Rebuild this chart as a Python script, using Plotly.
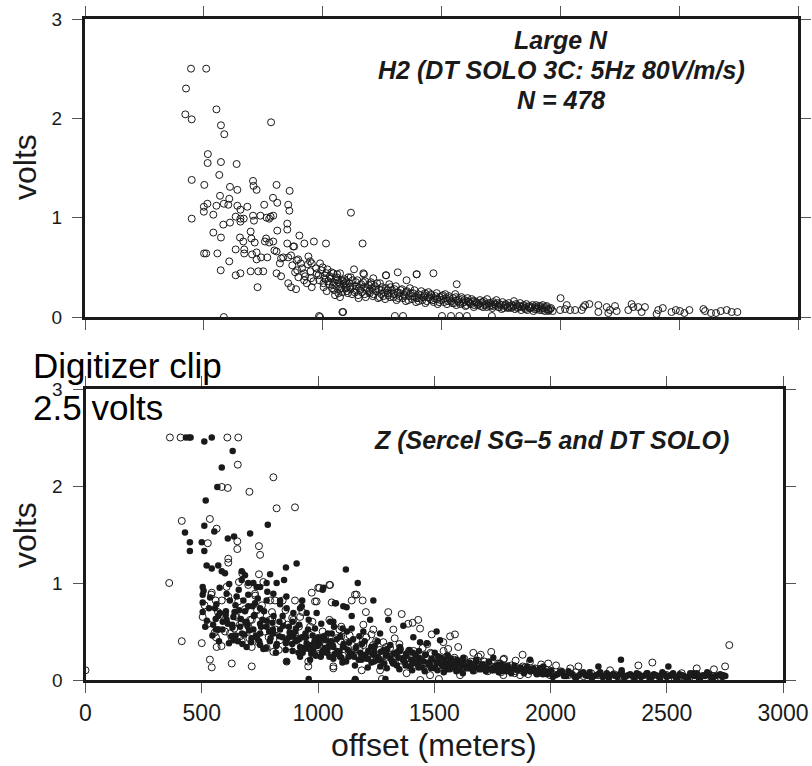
import plotly.graph_objects as go

# ---------------- data ----------------
# Top panel: H2 component, open circles
TOP_OFFSET = [
    446, 510, 425, 422, 449, 553, 572, 586, 783, 517,
    516, 572, 638, 565, 449, 502, 707, 709, 722, 806,
    610, 641, 568, 607, 791, 861, 809, 754, 855, 860,
    500, 500, 515, 553, 584, 603, 540, 449, 641, 654,
    683, 634, 654, 668, 654, 610, 582, 707, 711, 738,
    764, 775, 781, 792, 851, 851, 809, 697, 540, 572,
    652, 666, 700, 714, 762, 757, 775, 792, 902, 851,
    876, 923, 963, 1014, 501, 510, 557, 634, 670, 670,
    703, 722, 741, 722, 767, 797, 806, 607, 571, 634,
    654, 697, 729, 750, 806, 825, 726, 825, 820, 834,
    855, 867, 880, 891, 908, 940, 947, 954, 893, 898,
    922, 922, 933, 954, 951, 855, 867, 888, 989, 1000,
    1020, 975, 986, 1003, 1045, 1059, 1073, 1080, 1094, 1108,
    1101, 1066, 1073, 1052, 1083, 1119, 584, 989, 1168, 1132,
    1171, 1267, 1316, 1396, 1466, 1564, 1213, 1266, 1353, 1395,
    1086, 985, 1304, 1338, 1502, 1540, 1575, 1607, 1712, 1174,
    1004, 1013, 1017, 1027, 1030, 1039, 1046, 1049, 1058, 1062,
    1071, 1075, 1083, 1087, 1096, 1102, 1111, 1114, 1124, 1128,
    1137, 1140, 1149, 1153, 1162, 1166, 1174, 1181, 1185, 1194,
    1198, 1207, 1211, 1220, 1224, 1233, 1237, 1246, 1250, 1259,
    1263, 1272, 1276, 1285, 1289, 1298, 1302, 1311, 1315, 1324,
    1328, 1337, 1341, 1350, 1354, 1363, 1367, 1376, 1380, 1389,
    1393, 1402, 1406, 1415, 1419, 1428, 1432, 1441, 1445, 1454,
    1458, 1467, 1471, 1480, 1484, 1493, 1497, 1506, 1510, 1519,
    1523, 1532, 1536, 1545, 1549, 1558, 1562, 1571, 1575, 1584,
    1588, 1597, 1601, 1610, 1614, 1623, 1627, 1636, 1640, 1649,
    1653, 1662, 1666, 1675, 1679, 1688, 1692, 1701, 1705, 1714,
    1718, 1727, 1731, 1740, 1744, 1753, 1757, 1766, 1770, 1779,
    1783, 1792, 1796, 1805, 1809, 1818, 1822, 1831, 1835, 1844,
    1848, 1857, 1861, 1870, 1874, 1883, 1887, 1896, 1900, 1909,
    1913, 1922, 1926, 1935, 1939, 1948, 1952, 1961,
    1008, 1034, 1061, 1092, 1118, 1146, 1179, 1203, 1241, 1280,
    2001, 1968, 1999, 2020, 2027, 2041, 2062, 2090, 2097, 2104, 2122,
    2160, 2160, 2195, 2209, 2230, 2237, 2202, 2286, 2300, 2307, 2328, 2342, 2356,
    2405, 2412, 2431, 2468, 2486, 2503, 2522, 2543,
    2602, 2609, 2634, 2655, 2675, 2700, 2721, 2745,
    872, 884, 897, 913, 926, 938, 949, 961, 972, 983,
    994, 1007, 1016, 1024, 1037, 1043, 1055, 1067, 1078, 1089,
    1099, 1106, 1117, 1126, 1134, 1143, 1151, 1158, 1170, 1177,
    1188, 1196, 1205, 1214, 1222, 1229, 1240, 1248, 1255, 1266,
    1274, 1283, 1292, 1300, 1308, 1318, 1326, 1334, 1345, 1352,
    1360, 1371, 1378, 1386, 1397, 1404, 1412, 1423, 1430, 1438,
    1449, 1456, 1464, 1475, 1482, 1490, 1501, 1508, 1516, 1527,
    1534, 1542, 1553, 1560, 1568, 1579, 1586, 1594, 1605, 1612,
    1620, 1631, 1638, 1646, 1657, 1664, 1672, 1683, 1690, 1698,
    1709, 1716, 1724, 1735, 1742, 1750, 1761, 1768, 1776, 1787,
    1794, 1802, 1813, 1820, 1828, 1839, 1846, 1854, 1865, 1872,
    1880, 1891, 1898, 1906, 1917, 1924, 1932, 1943, 1950, 1958,
]
TOP_VOLTS = [
    2.50, 2.50, 2.30, 2.04, 1.99, 2.09, 1.93, 1.84, 1.96, 1.64,
    1.55, 1.56, 1.54, 1.43, 1.38, 1.33, 1.37, 1.32, 1.28, 1.33,
    1.31, 1.28, 1.22, 1.19, 1.20, 1.27, 1.15, 1.13, 1.13, 1.07,
    1.11, 1.06, 1.14, 1.12, 1.14, 1.13, 1.03, 0.99, 1.12, 1.08,
    1.11, 1.01, 0.99, 0.99, 0.96, 0.95, 0.93, 1.02, 0.97, 1.02,
    1.00, 0.99, 1.01, 1.02, 0.94, 0.88, 0.87, 0.86, 0.85, 0.80,
    0.80, 0.76, 0.79, 0.75, 0.79, 0.76, 0.75, 0.76, 0.82, 0.74,
    0.71, 0.74, 0.76, 0.74, 0.64, 0.64, 0.64, 0.68, 0.68, 0.64,
    0.63, 0.65, 0.60, 0.58, 0.60, 0.67, 0.66, 0.56, 0.47, 0.42,
    0.44, 0.46, 0.46, 0.46, 0.44, 0.41, 0.30, 0.59, 0.54, 0.60,
    0.60, 0.62, 0.71, 0.57, 0.54, 0.61, 0.56, 0.54, 0.47, 0.40,
    0.44, 0.37, 0.34, 0.30, 0.39, 0.34, 0.30, 0.28, 0.54, 0.50,
    0.48, 0.44, 0.37, 0.34, 0.44, 0.40, 0.44, 0.37, 0.34, 0.40,
    0.30, 0.24, 0.20, 0.22, 0.05, 1.05, 0.00, 0.00, 0.74, 0.48,
    0.44, 0.42, 0.45, 0.43, 0.44, 0.33, 0.39, 0.42, 0.37, 0.43,
    0.05, 0.01, 0.01, 0.01, 0.01, 0.01, 0.01, 0.01, 0.01, 0.43,
    0.30, 0.38, 0.26, 0.33, 0.41, 0.29, 0.35, 0.27, 0.31, 0.37,
    0.28, 0.33, 0.25, 0.36, 0.29, 0.26, 0.34, 0.30, 0.23, 0.31,
    0.27, 0.35, 0.22, 0.29, 0.33, 0.25, 0.30, 0.20, 0.27, 0.32,
    0.24, 0.29, 0.21, 0.31, 0.26, 0.19, 0.28, 0.23, 0.30, 0.25,
    0.18, 0.27, 0.22, 0.30, 0.24, 0.20, 0.28, 0.17, 0.25, 0.21,
    0.27, 0.19, 0.23, 0.16, 0.26, 0.21, 0.29, 0.18, 0.24, 0.20,
    0.15, 0.23, 0.19, 0.26, 0.17, 0.22, 0.14, 0.20, 0.25, 0.18,
    0.22, 0.15, 0.19, 0.24, 0.13, 0.20, 0.17, 0.22, 0.15, 0.19,
    0.13, 0.21, 0.17, 0.14, 0.19, 0.23, 0.12, 0.18, 0.15, 0.20,
    0.14, 0.17, 0.11, 0.19, 0.15, 0.13, 0.18, 0.10, 0.16, 0.14,
    0.12, 0.17, 0.14, 0.10, 0.16, 0.13, 0.18, 0.11, 0.14, 0.09,
    0.15, 0.12, 0.17, 0.10, 0.13, 0.08, 0.15, 0.11, 0.13, 0.09,
    0.14, 0.10, 0.12, 0.16, 0.08, 0.12, 0.10, 0.14, 0.07, 0.11,
    0.09, 0.13, 0.07, 0.11, 0.09, 0.12, 0.06, 0.10, 0.08, 0.11,
    0.07, 0.09, 0.12, 0.06, 0.10, 0.08, 0.07, 0.09,
    0.42, 0.39, 0.43, 0.38, 0.40, 0.37, 0.36, 0.35, 0.34, 0.33,
    0.19, 0.06, 0.07, 0.08, 0.12, 0.07, 0.07, 0.07, 0.10, 0.12, 0.13,
    0.12, 0.05, 0.10, 0.07, 0.11, 0.06, 0.04, 0.07, 0.13, 0.10, 0.10, 0.05, 0.10,
    0.03, 0.07, 0.09, 0.05, 0.07, 0.06, 0.04, 0.07,
    0.08, 0.06, 0.04, 0.04, 0.06, 0.07, 0.05, 0.05,
    0.52, 0.45, 0.58, 0.49, 0.41, 0.53, 0.46, 0.36, 0.49, 0.42,
    0.47, 0.39, 0.44, 0.36, 0.45, 0.32, 0.38, 0.35, 0.29, 0.33,
    0.36, 0.24, 0.28, 0.37, 0.25, 0.31, 0.19, 0.27, 0.35, 0.23,
    0.29, 0.26, 0.33, 0.23, 0.28, 0.34, 0.20, 0.27, 0.21, 0.29,
    0.24, 0.20, 0.27, 0.23, 0.31, 0.19, 0.24, 0.28, 0.21, 0.25,
    0.17, 0.24, 0.21, 0.27, 0.19, 0.16, 0.22, 0.20, 0.24, 0.16,
    0.20, 0.23, 0.17, 0.21, 0.18, 0.15, 0.21, 0.18, 0.23, 0.16,
    0.19, 0.16, 0.14, 0.20, 0.16, 0.13, 0.18, 0.15, 0.12, 0.16,
    0.14, 0.16, 0.12, 0.15, 0.13, 0.11, 0.15, 0.12, 0.10, 0.14,
    0.12, 0.11, 0.13, 0.14, 0.10, 0.12, 0.09, 0.12, 0.10, 0.11,
    0.09, 0.11, 0.13, 0.09, 0.11, 0.10, 0.12, 0.08, 0.10, 0.09,
    0.10, 0.08, 0.12, 0.09, 0.11, 0.07, 0.09, 0.11, 0.06, 0.08,
]

# Bottom panel: Z component, DT SOLO (open circles)
Z_OPEN_OFFSET = [
    0, 363, 409, 610, 657, 655, 808, 586, 612, 705,
    822, 901, 414, 535, 564, 526, 653, 653, 746, 751,
    614, 614, 360, 414, 500, 561, 564, 535, 543, 629,
    715, 504, 543, 560, 586, 607, 660, 674, 700, 729,
    746, 765, 794, 815, 848, 901, 973, 994, 1006, 1049,
    1059, 650, 664, 708, 751, 794, 894, 923, 600, 621,
    665, 715, 779, 808, 958, 958, 1066, 865, 1052, 1159,
    1145, 1192, 1206, 1302, 1360, 1388, 1407, 1431, 1439, 1195,
    1238, 1324, 1489, 1568, 1589, 1539, 1603, 1668, 1797, 1880,
    1912, 1990, 1066, 1188, 1267, 1381, 1482, 1611, 1797, 1869,
    1998, 2769, 2751, 2378, 2438, 2629, 2703, 2024, 2120, 2256,
    2564, 1001, 987, 1166, 1160, 1275, 1440, 1520, 1100, 1250,
    640, 672, 705, 738, 770, 803, 836, 868, 901, 934,
    966, 999, 1031, 1064, 1097, 1129, 1162, 1195, 1227, 1260,
    1293, 1325, 1358, 1391, 1423, 1456, 1489, 1521, 1554, 1587,
    1619, 1652, 1685, 1717, 1750, 1783, 1815, 1848, 1881, 1913,
    1946, 1979, 2011, 2044, 2077, 2109, 2142, 2175, 2207, 2240,
    2273, 2305, 2338, 2371, 2403, 2436, 2469, 2501, 2534, 2567,
    2599, 2632, 2665, 2697, 2730, 1350, 1450, 1540, 1700, 1800,
    512, 527, 541, 556, 570, 585, 599, 614, 628, 643,
    657, 672, 686, 701, 715, 730, 744, 759, 773, 788,
    802, 817, 831, 846, 860, 875, 889, 904, 918, 933,
    947, 962, 976, 991, 1005, 1020, 1034, 1049, 1063, 1078,
    1092, 1107, 1121, 1136, 1150, 1165, 1179, 1194, 1208, 1223,
    1237, 1252, 1266, 1281, 1295, 1310, 1324, 1339, 1353, 1368,
    1382, 1397, 1411, 1426, 1440, 1455, 1469, 1484, 1498, 1513,
    1527, 1542, 1556, 1571, 1585, 1600, 1614, 1629, 1643, 1658,
    1672, 1687, 1701, 1716, 1730, 1745, 1759, 1774, 1788, 1803,
    1817, 1832, 1846, 1861, 1875, 1890, 1904, 1919, 1933, 1948,
    1100, 1230, 1330, 1470, 1560, 1690, 1745, 1850, 1960, 2085,
]
Z_OPEN_VOLTS = [
    0.10, 2.50, 2.50, 2.50, 2.50, 2.22, 2.09, 1.99, 1.98, 1.94,
    1.77, 1.78, 1.64, 1.66, 1.56, 1.41, 1.43, 1.35, 1.38, 1.29,
    1.25, 1.21, 1.00, 0.40, 0.38, 0.44, 0.34, 0.21, 0.13, 0.17,
    0.14, 0.65, 0.90, 0.82, 0.82, 0.96, 1.01, 1.10, 0.98, 0.89,
    1.09, 1.01, 0.82, 0.82, 0.82, 0.82, 0.90, 0.81, 0.95, 0.98,
    0.80, 0.65, 0.57, 0.62, 0.67, 0.62, 0.62, 0.65, 0.50, 0.48,
    0.45, 0.34, 0.33, 0.29, 0.19, 0.14, 0.14, 0.19, 0.98, 0.88,
    0.82, 0.82, 0.70, 0.70, 0.68, 0.58, 0.59, 0.62, 0.53, 0.57,
    0.52, 0.52, 0.47, 0.45, 0.47, 0.39, 0.34, 0.28, 0.21, 0.26,
    0.19, 0.17, 0.12, 0.10, 0.10, 0.07, 0.05, 0.05, 0.05, 0.05,
    0.05, 0.36, 0.14, 0.15, 0.18, 0.12, 0.11, 0.15, 0.14, 0.10,
    0.07, 0.95, 0.81, 0.88, 0.00, 0.01, 0.00, 0.01, 0.45, 0.40,
    0.53, 0.60, 0.43, 0.72, 0.50, 0.63, 0.41, 0.57, 0.47, 0.38,
    0.55, 0.32, 0.45, 0.29, 0.40, 0.33, 0.25, 0.36, 0.29, 0.22,
    0.34, 0.26, 0.20, 0.30, 0.23, 0.17, 0.27, 0.20, 0.15, 0.23,
    0.17, 0.13, 0.20, 0.15, 0.11, 0.17, 0.12, 0.09, 0.14, 0.10,
    0.08, 0.11, 0.06, 0.09, 0.05, 0.08, 0.04, 0.07, 0.05, 0.03,
    0.06, 0.04, 0.03, 0.05, 0.02, 0.04, 0.03, 0.05, 0.02, 0.04,
    0.03, 0.05, 0.02, 0.04, 0.03, 0.37, 0.33, 0.30, 0.26, 0.22,
    0.77, 0.58, 0.88, 0.49, 0.70, 0.35, 0.62, 0.86, 0.44, 0.66,
    0.81, 0.40, 0.73, 0.55, 0.62, 0.87, 0.39, 0.77, 0.57, 0.44,
    0.70, 0.52, 0.31, 0.60, 0.72, 0.35, 0.64, 0.43, 0.55, 0.70,
    0.33, 0.47, 0.60, 0.41, 0.27, 0.50, 0.36, 0.62, 0.31, 0.43,
    0.52, 0.25, 0.38, 0.46, 0.28, 0.41, 0.32, 0.23, 0.44, 0.30,
    0.36, 0.21, 0.31, 0.39, 0.24, 0.33, 0.18, 0.28, 0.32, 0.22,
    0.26, 0.16, 0.30, 0.21, 0.25, 0.14, 0.22, 0.28, 0.17, 0.24,
    0.13, 0.19, 0.25, 0.16, 0.21, 0.11, 0.18, 0.22, 0.14, 0.19,
    0.10, 0.16, 0.13, 0.19, 0.09, 0.14, 0.12, 0.17, 0.08, 0.13,
    0.11, 0.15, 0.07, 0.12, 0.10, 0.13, 0.06, 0.10, 0.12, 0.07,
    0.55, 0.47, 0.43, 0.37, 0.32, 0.24, 0.29, 0.20, 0.16, 0.12,
]

# Bottom panel: Z component, Sercel SG-5 (filled circles)
Z_FILLED_OFFSET = [
    432, 452, 511, 543, 446, 633, 586, 567, 517, 511,
    554, 784, 428, 449, 449, 500, 511, 612, 639, 708,
    862, 908, 521, 543, 571, 586, 600, 504, 504, 504,
    504, 557, 571, 561, 571, 672, 672, 686, 700, 722,
    736, 751, 779, 794, 822, 854, 607, 621, 650, 679,
    700, 729, 751, 779, 808, 837, 865, 894, 923, 951,
    994, 1023, 1073, 578, 607, 636, 665, 693, 722, 751,
    779, 808, 837, 865, 894, 923, 951, 980, 1009, 1037,
    1066, 1095, 571, 636, 693, 751, 865, 923, 966, 1120,
    1171, 1238, 1145, 1302, 1367, 1410, 1510, 1077, 1109, 1123,
    1066, 1059, 1106, 1145, 1195, 1224, 1267, 1439, 1468, 1525,
    1754, 1912, 1969, 2303, 2507, 2206, 2306, 2414, 2614, 2743,
    930, 1020, 1052, 960, 1160, 1290,
    612, 628, 641, 655, 668, 683, 697, 712, 724, 738,
    751, 765, 779, 793, 806, 820, 834, 848, 861, 875,
    889, 902, 916, 930, 944, 957, 971, 985, 998, 1012,
    1025, 1039, 1052, 1066, 1080, 1093, 1107, 1121, 1134, 1148,
    1162, 1175, 1189, 1203, 1216, 1230, 1244, 1257, 1271, 1285,
    1298, 1312, 1326, 1339, 1353, 1367, 1380, 1394, 1408, 1421,
    1435, 1449, 1462, 1476, 1490, 1503, 1517, 1531, 1544, 1558,
    1572, 1585, 1599, 1613, 1626, 1640, 1654, 1667, 1681, 1695,
    1708, 1722, 1736, 1749, 1763, 1777, 1790, 1804, 1818, 1831,
    1845, 1859, 1872, 1886, 1900, 1913, 1927, 1941, 1954, 1968,
    1018, 1046, 1073, 1101, 1128, 1155, 1182, 1210, 1237, 1264,
    1292, 1319, 1346, 1374, 1401, 1428, 1455, 1483, 1510, 1537,
    1565, 1592, 1619, 1647, 1674, 1701, 1728, 1756, 1783, 1810,
    1985, 2003, 2021, 2040, 2058, 2077, 2095, 2113, 2132, 2150,
    2168, 2187, 2205, 2224, 2242, 2261, 2279, 2297, 2316, 2334,
    2353, 2371, 2389, 2408, 2426, 2445, 2463, 2481, 2500, 2518,
    2537, 2555, 2573, 2592, 2610, 2629, 2647, 2665, 2684, 2702,
    2721, 2739, 2752,
    508, 522, 536, 549, 563, 577, 590, 604, 618, 631,
    645, 659, 673, 686, 700, 714, 727, 741, 755, 768,
    782, 796, 809, 823, 837, 850, 864, 878, 891, 905,
    919, 932, 946, 960, 973, 987, 1001, 1014, 1028, 1042,
    1055, 1069, 1083, 1096, 1110, 1124, 1137, 1151, 1165, 1178,
    515, 531, 546, 560, 574, 589, 603, 617, 632, 646,
    661, 675, 689, 704, 718, 733, 747, 761, 776, 790,
    804, 819, 833, 848, 862, 876, 891, 905, 919, 934,
    948, 963, 977, 991, 1006, 1020, 1034, 1049, 1063, 1078,
    1188, 1201, 1215, 1229, 1242, 1256, 1270, 1283, 1297, 1311,
    1324, 1338, 1352, 1365, 1379, 1393, 1406, 1420, 1434, 1447,
    1461, 1475, 1488, 1502, 1516, 1529, 1543, 1557, 1570, 1584,
    1598, 1611, 1625, 1639, 1652, 1666, 1680, 1693, 1707, 1721,
    1734, 1748, 1762, 1775, 1789, 1803, 1816, 1830, 1844, 1857,
    1871, 1885, 1898, 1912, 1926, 1939, 1953, 1967, 1980, 1994,
    1105, 1132, 1159, 1187, 1214, 1241, 1268, 1296, 1323, 1350,
    1377, 1405, 1432, 1459, 1486, 1514, 1541, 1568, 1595, 1623,
    2010, 2031, 2049, 2068, 2086, 2104, 2123, 2141, 2159, 2178,
    2196, 2214, 2233, 2251, 2270, 2288, 2306, 2325, 2343, 2362,
    2380, 2398, 2417, 2435, 2454, 2472, 2490, 2509, 2527, 2546,
    2564, 2582, 2601, 2619, 2638, 2656, 2674, 2693, 2711, 2730,
]
Z_FILLED_VOLTS = [
    2.50, 2.50, 2.46, 2.50, 2.50, 2.36, 2.19, 1.99, 1.85, 1.59,
    1.53, 1.60, 1.52, 1.42, 1.33, 1.42, 1.33, 1.46, 1.48, 1.51,
    1.16, 1.20, 1.18, 1.15, 1.18, 1.12, 1.10, 0.96, 0.88, 0.80,
    0.70, 0.74, 0.66, 0.52, 0.52, 1.12, 1.03, 1.08, 1.00, 1.00,
    0.96, 0.96, 1.00, 1.09, 1.00, 1.03, 0.89, 0.82, 0.86, 0.82,
    0.76, 0.79, 0.74, 0.82, 0.89, 0.82, 0.74, 0.69, 0.74, 0.69,
    0.69, 0.95, 0.79, 0.69, 0.62, 0.65, 0.55, 0.60, 0.52, 0.48,
    0.55, 0.48, 0.52, 0.41, 0.45, 0.34, 0.38, 0.31, 0.41, 0.28,
    0.34, 0.24, 0.52, 0.41, 0.34, 0.36, 0.19, 0.24, 0.21, 1.14,
    1.00, 0.82, 0.66, 0.62, 0.56, 0.44, 0.50, 0.79, 0.76, 0.75,
    0.60, 0.48, 0.53, 0.53, 0.50, 0.62, 0.48, 0.39, 0.38, 0.41,
    0.23, 0.21, 0.14, 0.21, 0.14, 0.14, 0.10, 0.07, 0.07, 0.05,
    0.76, 0.93, 0.60, 0.01, 0.01, 0.01,
    0.58, 0.45, 0.70, 0.40, 0.63, 0.47, 0.56, 0.39, 0.66, 0.43,
    0.58, 0.32, 0.61, 0.40, 0.52, 0.35, 0.60, 0.44, 0.31, 0.55,
    0.37, 0.50, 0.28, 0.44, 0.33, 0.52, 0.27, 0.40, 0.35, 0.24,
    0.45, 0.31, 0.38, 0.22, 0.42, 0.29, 0.34, 0.19, 0.39, 0.27,
    0.33, 0.21, 0.37, 0.26, 0.30, 0.18, 0.35, 0.24, 0.29, 0.17,
    0.32, 0.22, 0.27, 0.15, 0.30, 0.20, 0.25, 0.14, 0.28, 0.19,
    0.23, 0.13, 0.26, 0.18, 0.21, 0.12, 0.24, 0.16, 0.20, 0.11,
    0.22, 0.15, 0.18, 0.10, 0.20, 0.14, 0.17, 0.09, 0.19, 0.13,
    0.16, 0.09, 0.18, 0.12, 0.14, 0.08, 0.16, 0.11, 0.13, 0.07,
    0.15, 0.10, 0.12, 0.07, 0.14, 0.09, 0.11, 0.06, 0.12, 0.08,
    0.28, 0.35, 0.27, 0.23, 0.31, 0.24, 0.28, 0.22, 0.26, 0.21,
    0.25, 0.19, 0.23, 0.18, 0.21, 0.16, 0.19, 0.15, 0.17, 0.14,
    0.16, 0.13, 0.15, 0.12, 0.14, 0.11, 0.12, 0.10, 0.11, 0.09,
    0.06, 0.10, 0.05, 0.08, 0.04, 0.09, 0.06, 0.03, 0.07, 0.05,
    0.08, 0.04, 0.06, 0.03, 0.07, 0.05, 0.04, 0.06, 0.03, 0.05,
    0.04, 0.07, 0.03, 0.05, 0.02, 0.06, 0.04, 0.08, 0.03, 0.05,
    0.03, 0.06, 0.04, 0.02, 0.05, 0.07, 0.03, 0.04, 0.06, 0.03,
    0.05, 0.03, 0.04,
    0.92, 0.61, 0.85, 0.57, 0.78, 0.95, 0.60, 0.71, 0.99, 0.57,
    0.77, 0.93, 0.48, 0.71, 0.88, 0.43, 0.67, 0.84, 0.55, 0.71,
    0.91, 0.43, 0.66, 0.37, 0.78, 0.56, 0.86, 0.49, 0.60, 0.40,
    0.57, 0.82, 0.48, 0.62, 0.36, 0.53, 0.44, 0.58, 0.33, 0.48,
    0.40, 0.55, 0.30, 0.45, 0.37, 0.50, 0.28, 0.42, 0.34, 0.45,
    0.55, 0.74, 0.46, 0.63, 0.40, 0.52, 0.67, 0.38, 0.54, 0.46,
    0.72, 0.37, 0.59, 0.51, 0.76, 0.46, 0.40, 0.62, 0.33, 0.50,
    0.59, 0.28, 0.45, 0.66, 0.38, 0.44, 0.30, 0.53, 0.42, 0.28,
    0.44, 0.32, 0.46, 0.25, 0.38, 0.30, 0.41, 0.24, 0.36, 0.27,
    0.26, 0.40, 0.22, 0.34, 0.29, 0.40, 0.20, 0.31, 0.26, 0.36,
    0.18, 0.28, 0.34, 0.22, 0.27, 0.31, 0.17, 0.25, 0.30, 0.20,
    0.26, 0.16, 0.22, 0.28, 0.18, 0.23, 0.15, 0.25, 0.19, 0.14,
    0.21, 0.17, 0.23, 0.12, 0.18, 0.15, 0.21, 0.11, 0.16, 0.13,
    0.19, 0.10, 0.14, 0.16, 0.09, 0.13, 0.15, 0.08, 0.12, 0.10,
    0.13, 0.08, 0.11, 0.09, 0.12, 0.07, 0.10, 0.06, 0.09, 0.07,
    0.18, 0.24, 0.15, 0.21, 0.13, 0.19, 0.14, 0.12, 0.17, 0.11,
    0.15, 0.10, 0.13, 0.09, 0.12, 0.10, 0.08, 0.11, 0.09, 0.07,
    0.03, 0.06, 0.09, 0.04, 0.07, 0.03, 0.05, 0.08, 0.04, 0.02,
    0.05, 0.08, 0.04, 0.02, 0.06, 0.03, 0.08, 0.04, 0.06, 0.02,
    0.06, 0.04, 0.07, 0.03, 0.05, 0.02, 0.06, 0.04, 0.07, 0.02,
    0.05, 0.03, 0.07, 0.04, 0.02, 0.05, 0.08, 0.02, 0.04, 0.06,
]

X_TICKS = [0, 500, 1000, 1500, 2000, 2500, 3000]
Y_TICKS = [0, 1, 2, 3]

TOP_TITLE = ["Large N", "H2 (DT SOLO 3C: 5Hz 80V/m/s)", "N = 478"]
BOTTOM_TITLE = "Z (Sercel SG\u20135 and DT SOLO)"

# ---------------- figure ----------------
W, H = 812, 766
FONT = "Liberation Sans, Arial, Helvetica, sans-serif"
INK = "#1a1a1a"


def px_x(p):
    return p / W


def px_y(p):
    return 1 - p / H


fig = go.Figure()

n = min(len(TOP_OFFSET), len(TOP_VOLTS))
fig.add_trace(go.Scatter(
    x=TOP_OFFSET[:n], y=TOP_VOLTS[:n], mode="markers",
    marker=dict(symbol="circle-open", size=7, color=INK, line=dict(width=1, color=INK)),
    xaxis="x", yaxis="y", showlegend=False, hoverinfo="skip"))

n = min(len(Z_OPEN_OFFSET), len(Z_OPEN_VOLTS))
fig.add_trace(go.Scatter(
    x=Z_OPEN_OFFSET[:n], y=Z_OPEN_VOLTS[:n], mode="markers",
    marker=dict(symbol="circle-open", size=7, color=INK, line=dict(width=1, color=INK)),
    xaxis="x2", yaxis="y2", showlegend=False, hoverinfo="skip"))

n = min(len(Z_FILLED_OFFSET), len(Z_FILLED_VOLTS))
fig.add_trace(go.Scatter(
    x=Z_FILLED_OFFSET[:n], y=Z_FILLED_VOLTS[:n], mode="markers",
    marker=dict(symbol="circle", size=6.5, color=INK, line=dict(width=0)),
    xaxis="x2", yaxis="y2", showlegend=False, hoverinfo="skip"))

axis_common = dict(
    range=[0, 3000], showgrid=False, zeroline=False, showline=True, linewidth=3,
    linecolor=INK, mirror="ticks", ticks="outside", ticklen=10, tickwidth=1,
    tickcolor="#555555", fixedrange=True, automargin=False,
)
yaxis_common = dict(
    range=[0, 3], showgrid=False, zeroline=False, showline=True, linewidth=3,
    linecolor=INK, mirror="ticks", ticks="outside", ticklen=10, tickwidth=1,
    tickcolor="#555555", tickvals=Y_TICKS, ticktext=[str(v) for v in Y_TICKS],
    tickfont=dict(family=FONT, size=19, color=INK), ticklabelstandoff=6,
    fixedrange=True, automargin=False,
)

fig.update_layout(
    width=W, height=H, margin=dict(l=0, r=0, t=0, b=0, autoexpand=False),
    paper_bgcolor="white", plot_bgcolor="white",
    font=dict(family=FONT, color=INK),
    xaxis=dict(axis_common, domain=[px_x(85), px_x(798)], anchor="y",
               tickvals=X_TICKS, showticklabels=False),
    yaxis=dict(yaxis_common, domain=[px_y(317), px_y(19)], anchor="x"),
    xaxis2=dict(axis_common, domain=[px_x(85.5), px_x(783)], anchor="y2",
                tickvals=X_TICKS, ticktext=[str(v) for v in X_TICKS],
                tickfont=dict(family=FONT, size=23, color=INK)),
    yaxis2=dict(yaxis_common, domain=[px_y(680), px_y(389)], anchor="x2"),
)

ann = []
bi = dict(family=FONT, size=25, color=INK)
for i, t in enumerate(TOP_TITLE):
    ann.append(dict(text="<b><i>%s</i></b>" % t, x=px_x(561), y=px_y(40 + 30 * i),
                    xref="paper", yref="paper", xanchor="center", yanchor="middle",
                    showarrow=False, font=bi))
ann.append(dict(text="<b><i>%s</i></b>" % BOTTOM_TITLE, x=px_x(551), y=px_y(440),
                xref="paper", yref="paper", xanchor="center", yanchor="middle",
                showarrow=False, font=bi))
for cy in (167, 535):
    ann.append(dict(text="volts", x=px_x(25), y=px_y(cy), xref="paper", yref="paper",
                    xanchor="center", yanchor="middle", textangle=-90, showarrow=False,
                    font=dict(family=FONT, size=32, color=INK)))
ann.append(dict(text="offset (meters)", x=px_x(434), y=px_y(745), xref="paper",
                yref="paper", xanchor="center", yanchor="middle", showarrow=False,
                font=dict(family=FONT, size=32, color=INK)))
ann.append(dict(text="Digitizer clip", x=px_x(31), y=px_y(365), xref="paper",
                yref="paper", xanchor="left", yanchor="middle", showarrow=False,
                font=dict(family=FONT, size=35, color="black")))
ann.append(dict(text="2.5 volts", x=px_x(31), y=px_y(407), xref="paper",
                yref="paper", xanchor="left", yanchor="middle", showarrow=False,
                font=dict(family=FONT, size=35, color="black")))
fig.update_layout(annotations=ann)

fig.write_html("out.html", config={"displayModeBar": False})
